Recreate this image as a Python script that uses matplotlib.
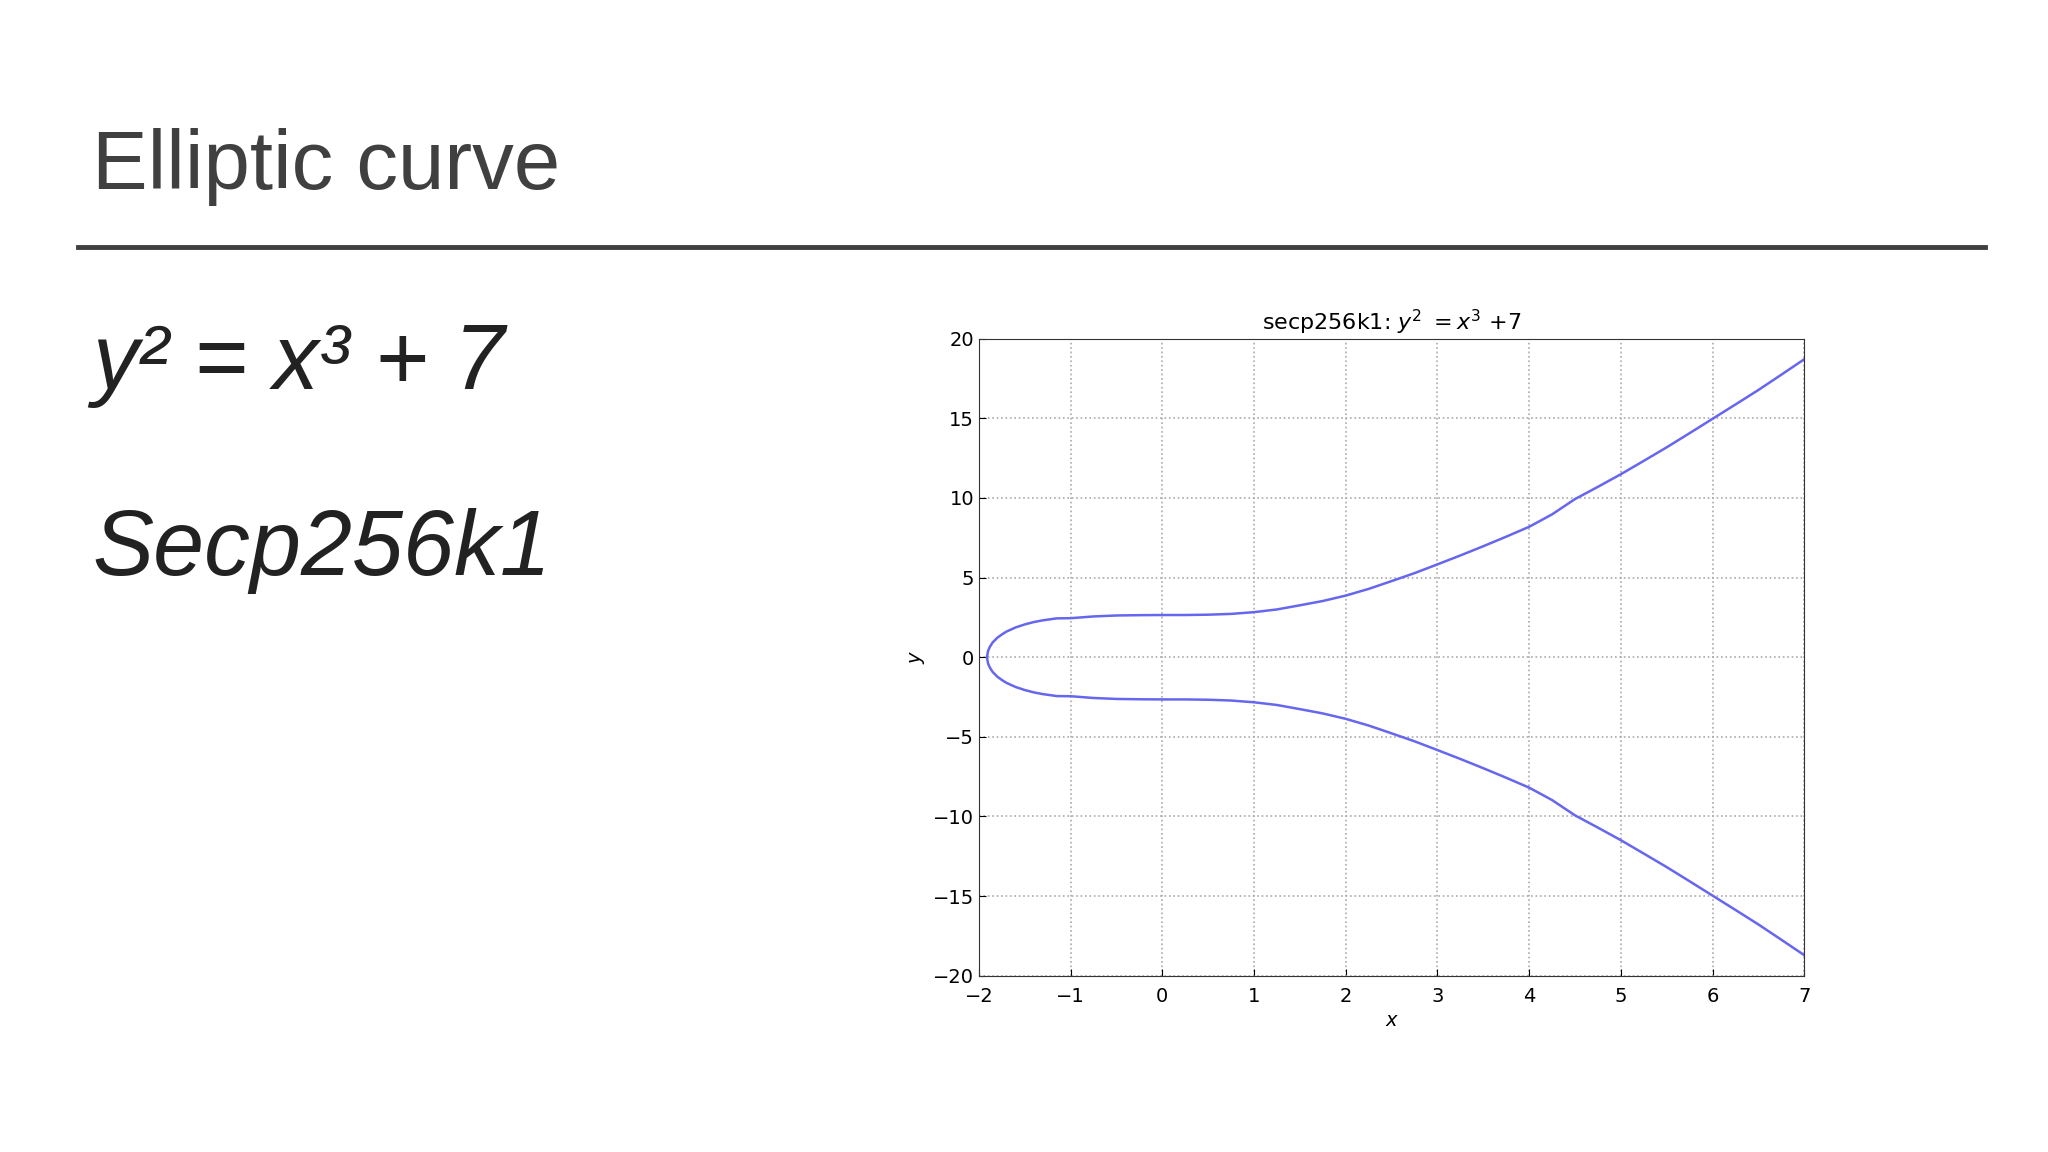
import numpy as np
import matplotlib.pyplot as plt

# points (upper branch), lower branch is its mirror
xs = [-1.913, -1.9, -1.88, -1.85, -1.8, -1.75, -1.7, -1.6, -1.5, -1.4, -1.3, -1.15, -1.0, -0.75, -0.5, -0.25, 0.0,
      0.25, 0.5, 0.75, 1.0, 1.25, 1.5, 1.75, 2.0, 2.25, 2.5, 2.75, 3.0, 3.25, 3.5, 3.75, 4.0, 4.25, 4.5, 4.75,
      5.0, 5.25, 5.5, 5.75, 6.0, 6.25, 6.5, 6.75, 7.0]
ys_up = [0.0, 0.41, 0.66, 0.93, 1.22, 1.43, 1.61, 1.87, 2.06, 2.21, 2.32, 2.44, 2.45, 2.56, 2.62, 2.64, 2.65,
         2.65, 2.67, 2.72, 2.83, 3.00, 3.26, 3.53, 3.87, 4.29, 4.78, 5.28, 5.83, 6.39, 6.97, 7.57, 8.19, 8.97, 9.93, 10.7,
         11.49, 12.33, 13.18, 14.07, 14.97, 15.87, 16.78, 17.74, 18.71]

xs = np.array(xs)
ys_up = np.array(ys_up)
x_all = np.concatenate([xs[::-1], xs[1:]])
y_all = np.concatenate([ys_up[::-1], -ys_up[1:]])

sans = ["Liberation Sans", "DejaVu Sans"]
fig = plt.figure(figsize=(20.48, 11.52), dpi=100)
fig.text(0.045, 0.855, "Elliptic curve", fontsize=60, color="#404040", va="center", family=sans)
fig.add_artist(plt.Line2D([0.038, 0.969], [0.786, 0.786], color="#404040", lw=3.5))
fig.text(0.045, 0.683, "y² = x³ + 7", fontsize=66, style="italic", color="#222222", va="center", family=sans)
fig.text(0.045, 0.522, "Secp256k1", fontsize=66, style="italic", color="#222222", va="center", family=sans)

ax = fig.add_axes([0.478, 0.153, 0.403, 0.553])
ax.plot(x_all, y_all, color="#6666ee", lw=1.8)
ax.set_xlim(-2, 7)
ax.set_ylim(-20, 20)
ax.set_xticks(range(-2, 8))
ax.set_yticks(range(-20, 21, 5))
ax.grid(True, linestyle=":", color="#aaaaaa", lw=1.2)
ax.tick_params(labelsize=14, direction="in", length=5)
ax.tick_params(axis="x", pad=8)
ax.set_xlabel(r"$x$", fontsize=14)
ax.set_ylabel(r"$y$", fontsize=14)
ax.set_title(r"secp256k1: $y^2$ $=x^3$ $+7$", fontsize=16)
for s in ax.spines.values():
    s.set_color("#333333")

fig.savefig("out.png", dpi=100)
